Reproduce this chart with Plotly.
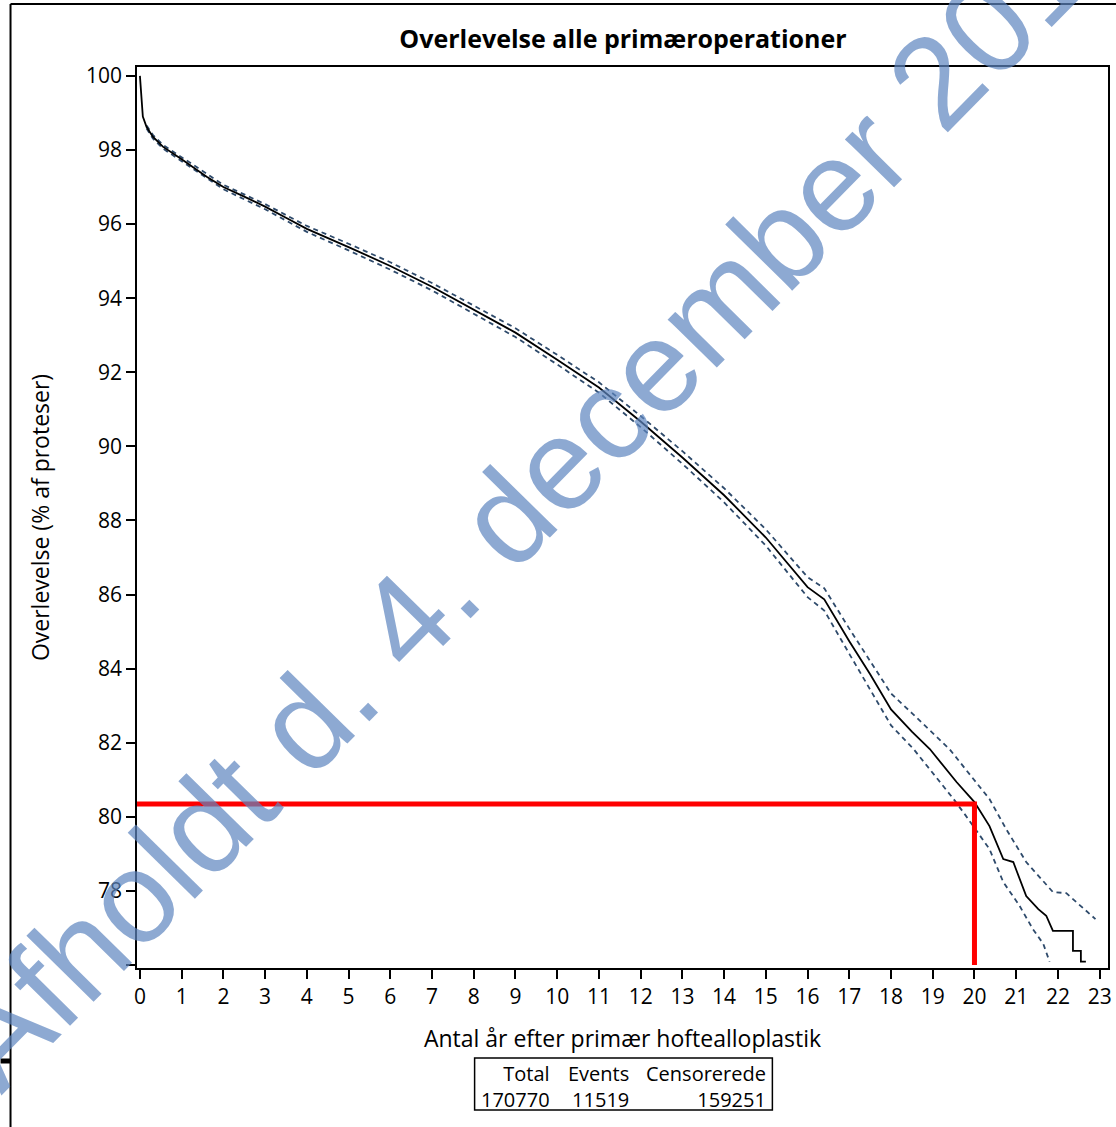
import plotly.graph_objects as go

# ---------------- data ----------------
years = [0, 0.02, 0.04, 0.07, 0.16, 0.31, 0.55, 0.79, 1.0, 1.6, 2.0, 2.5, 3.0, 3.5, 4.0, 5.0,
         6.0, 7.0, 8.0, 9.0, 10.0, 11.0, 12.0, 13.0, 14.0, 15.0, 16.0, 16.4, 17.0, 17.5,
         18.0, 18.5, 18.93, 19.26, 19.57, 20.0, 20.36, 20.69, 20.93, 21.24, 21.53, 21.72,
         21.88, 22.36, 22.36, 22.55, 22.55, 22.67]
survival = [100, 99.7, 99.35, 98.9, 98.62, 98.36, 98.09, 97.92, 97.75, 97.28, 97.0, 96.74,
            96.47, 96.17, 95.87, 95.38, 94.87, 94.31, 93.7, 93.07, 92.34, 91.59, 90.67, 89.7,
            88.68, 87.54, 86.2, 85.87, 84.74, 83.85, 82.9, 82.3, 81.83, 81.37, 80.94, 80.4,
            79.75, 78.86, 78.78, 77.86, 77.51, 77.33, 76.92, 76.92, 76.38, 76.38, 76.09, 76.09]

upper_years = [0.16, 0.31, 0.55, 1.0, 2.0, 3.0, 4.0, 5.0, 6.0, 7.0, 8.0, 9.0, 10.0, 11.0,
               12.0, 13.0, 14.0, 15.0, 16.0, 16.4, 17.0, 18.0, 18.5, 19.4, 20.36, 20.76,
               21.24, 21.55, 21.88, 22.2, 22.5, 22.9]
upper_ci = [98.66, 98.41, 98.14, 97.8, 97.06, 96.54, 95.95, 95.47, 94.97, 94.41, 93.81,
            93.19, 92.47, 91.73, 90.82, 89.87, 88.87, 87.76, 86.47, 86.17, 85.08, 83.33,
            82.8, 81.83, 80.48, 79.67, 78.78, 78.38, 77.97, 77.94, 77.65, 77.24]

lower_years = [0.16, 0.31, 0.55, 1.0, 2.0, 3.0, 4.0, 5.0, 6.0, 7.0, 8.0, 9.0, 10.0, 11.0,
               12.0, 13.0, 14.0, 15.0, 16.0, 16.4, 17.0, 18.0, 18.54, 19.5, 19.8, 20.36,
               20.69, 21.08, 21.4, 21.65, 21.8]
lower_ci = [98.58, 98.31, 98.04, 97.7, 96.94, 96.4, 95.79, 95.29, 94.77, 94.21, 93.59,
            92.95, 92.21, 91.45, 90.52, 89.53, 88.49, 87.32, 85.93, 85.57, 84.4, 82.47,
            81.83, 80.48, 80.02, 79.13, 78.24, 77.6, 76.97, 76.57, 76.09]

marker_year = 20
marker_survival = 80.35

x_ticks = list(range(0, 24))
y_ticks = [76, 78, 80, 82, 84, 86, 88, 90, 92, 94, 96, 98, 100]
y_ticklabels = ["", "78", "80", "82", "84", "86", "88", "90", "92", "94", "96", "98", "100"]

table_headers = ["Total", "Events", "Censorerede"]
table_values = ["170770", "11519", "159251"]

title_text = "Overlevelse alle primæroperationer"
x_title = "Antal år efter primær hoftealloplastik"
y_title = "Overlevelse (% af proteser)"
watermark = "Afholdt d. 4. december 2019"

# ---------------- layout helpers (pixel -> paper) ----------------
W, H = 1116, 1127
L, R, T, B = 137, 4, 67, 159
PW, PH = W - L - R, H - T - B


def px(xr):
    return (xr - L) / PW


def py(yr):
    return (H - B - yr) / PH


FONT = "Open Sans"
CI_COLOR = "#2E4A6B"

fig = go.Figure()
fig.add_trace(go.Scatter(x=upper_years, y=upper_ci, mode="lines",
                         line=dict(color=CI_COLOR, width=1.8, dash="5px,4px"),
                         showlegend=False, hoverinfo="skip"))
fig.add_trace(go.Scatter(x=lower_years, y=lower_ci, mode="lines",
                         line=dict(color=CI_COLOR, width=1.8, dash="5px,4px"),
                         showlegend=False, hoverinfo="skip"))
fig.add_trace(go.Scatter(x=years, y=survival, mode="lines",
                         line=dict(color="black", width=1.8),
                         showlegend=False))
# red reading lines
fig.add_trace(go.Scatter(x=[-0.07, marker_year, marker_year],
                         y=[marker_survival, marker_survival, 76.0],
                         mode="lines", line=dict(color="#FF0000", width=5),
                         showlegend=False, hoverinfo="skip"))

shapes = []
# table box
shapes.append(dict(type="rect", xref="paper", yref="paper",
                   x0=px(476), x1=px(775), y0=py(1110), y1=py(1058),
                   line=dict(color="black", width=1.5)))
# outer page frame lines
shapes.append(dict(type="line", xref="paper", yref="paper",
                   x0=px(10), x1=px(10), y0=py(4), y1=py(1135),
                   line=dict(color="black", width=2)))
shapes.append(dict(type="line", xref="paper", yref="paper",
                   x0=px(10), x1=px(1125), y0=py(4), y1=py(4),
                   line=dict(color="black", width=2)))
shapes.append(dict(type="line", xref="paper", yref="paper",
                   x0=px(0), x1=px(10), y0=py(1061), y1=py(1061),
                   line=dict(color="black", width=5)))

annotations = []
col_right = [553, 632, 770]
for cx, h, v in zip(col_right, table_headers, table_values):
    annotations.append(dict(x=px(cx + 1), y=py(1086), xref="paper", yref="paper",
                            text=h + "<br>" + v, showarrow=False, align="right",
                            xanchor="right", yanchor="middle",
                            font=dict(family=FONT, size=20, color="black")))
# watermark (semi-transparent so the chart marks show through, as in the original)
annotations.append(dict(x=px(543), y=py(482), xref="paper", yref="paper",
                        text=watermark, showarrow=False, textangle=-45.5,
                        xanchor="center", yanchor="middle", opacity=0.7,
                        font=dict(family="Liberation Sans", size=130, color="#5E86C0")))

fig.update_layout(
    width=W, height=H, autosize=False,
    margin=dict(l=L, r=R, t=T, b=B, pad=0),
    paper_bgcolor="white", plot_bgcolor="white",
    title=dict(text="<b>" + title_text + "</b>", x=px(625), xref="paper",
               y=1 - 39 / H, yref="container", xanchor="center", yanchor="middle",
               font=dict(family=FONT, size=25, color="black")),
    xaxis=dict(range=[-0.07, 23.2], tickvals=x_ticks, ticks="outside", ticklen=9,
               tickwidth=1.5, tickcolor="black", showgrid=False, zeroline=False,
               showline=True, linecolor="black", linewidth=1.5, mirror=True,
               tickfont=dict(family=FONT, size=21, color="black"),
               title=dict(text=x_title, standoff=22,
                          font=dict(family=FONT, size=23, color="black"))),
    yaxis=dict(range=[75.92, 100.24], tickvals=y_ticks, ticktext=y_ticklabels,
               ticks="outside", ticklen=9, tickwidth=1.5, tickcolor="black",
               showgrid=False, zeroline=False,
               showline=True, linecolor="black", linewidth=1.5, mirror=True,
               tickfont=dict(family=FONT, size=21, color="black"),
               title=dict(text=y_title, standoff=30,
                          font=dict(family=FONT, size=23, color="black"))),
    shapes=shapes,
    annotations=annotations,
)

fig.write_html("out.html", config={"displayModeBar": False},
               post_script="document.body.style.margin='0';")
